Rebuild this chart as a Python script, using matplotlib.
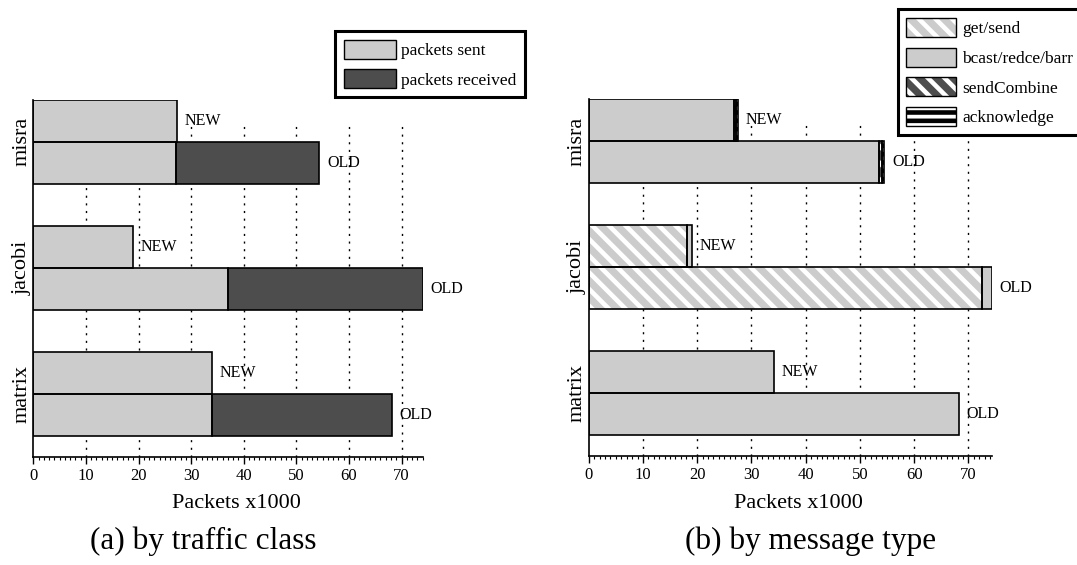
import matplotlib
matplotlib.use("Agg")
import matplotlib.pyplot as plt
from matplotlib.patches import Patch
from matplotlib.legend_handler import HandlerTuple
from matplotlib.ticker import MultipleLocator

plt.rcParams['font.family'] = ['Liberation Serif', 'DejaVu Serif']
plt.rcParams['hatch.linewidth'] = 3.3

# ---------------- data ----------------
categories = ['matrix', 'jacobi', 'misra']
version_labels = ['OLD', 'NEW']

# (a) by traffic class
sent_old = [34.0, 37.0, 27.1]
recv_old = [34.1, 37.1, 27.3]
sent_new = [34.0, 19.0, 27.3]
recv_new = [0.0, 0.0, 0.0]

# (b) by message type
getsend_old = [0.0, 72.6, 0.0]
bcast_old = [68.2, 1.7, 53.6]
sendcomb_old = [0.0, 0.0, 0.5]
ack_old = [0.0, 0.0, 0.4]
getsend_new = [0.0, 18.1, 0.0]
bcast_new = [34.1, 0.9, 26.8]
sendcomb_new = [0.0, 0.0, 0.3]
ack_new = [0.0, 0.0, 0.4]

xlabel = 'Packets x1000'
caption_a = '(a) by traffic class'
caption_b = '(b) by message type'

LIGHT = '#cccccc'
DARK = '#4d4d4d'

fig = plt.figure(figsize=(10.77, 5.65), dpi=100)
W, H = 1077, 565
ax1 = fig.add_axes([33.3 / W, 1 - 456.7 / H, 389.8 / W, 357.0 / H])
ax2 = fig.add_axes([588.7 / W, 1 - 456.0 / H, 403.0 / W, 356.7 / H])


def seg(ax, y, left, width, face, hatch=None, hcolor=None):
    if width <= 0:
        return
    if hatch:
        ax.barh(y, width, left=left, height=1, facecolor=face, edgecolor=hcolor,
                hatch=hatch, linewidth=0, zorder=2)
    else:
        ax.barh(y, width, left=left, height=1, facecolor=face, linewidth=0, zorder=2)
    ax.barh(y, width, left=left, height=1, facecolor='none', edgecolor='black',
            linewidth=1.2, zorder=3)


def style_axes(ax, xmax):
    ax.set_xlim(0, xmax)
    ax.set_ylim(-1, 7.5)
    for s in ['top', 'right']:
        ax.spines[s].set_visible(False)
    ax.spines['left'].set_linewidth(1.2)
    ax.spines['bottom'].set_linewidth(1.2)
    ax.xaxis.set_major_locator(MultipleLocator(10))
    ax.xaxis.set_minor_locator(MultipleLocator(1))
    ax.tick_params(axis='x', which='major', length=5, width=1, labelsize=12, pad=3)
    ax.tick_params(axis='x', which='minor', length=2.5, width=0.8)
    ax.set_yticks([3 * i + 0.5 for i in range(len(categories))])
    ax.set_yticklabels(categories, rotation=90, fontsize=16, va='center')
    ax.tick_params(axis='y', length=0, pad=1.5)
    ax.vlines(range(10, int(xmax) + 1, 10), -1, 6.9, colors='black',
              linestyles=(0, (1.5, 4)), linewidth=1, zorder=1)


def label(ax, x, y, txt):
    ax.annotate(txt, (x, y), xytext=(5.5, 0), textcoords='offset points',
                va='center', ha='left', fontsize=11.5, zorder=4)


# ---------------- panel (a) ----------------
tot_a = []
for i in range(len(categories)):
    y_old, y_new = 3 * i, 3 * i + 1
    seg(ax1, y_old, 0, sent_old[i], LIGHT)
    seg(ax1, y_old, sent_old[i], recv_old[i], DARK)
    seg(ax1, y_new, 0, sent_new[i], LIGHT)
    seg(ax1, y_new, sent_new[i], recv_new[i], DARK)
    label(ax1, sent_old[i] + recv_old[i], y_old, version_labels[0])
    label(ax1, sent_new[i] + recv_new[i], y_new, version_labels[1])
    tot_a += [sent_old[i] + recv_old[i], sent_new[i] + recv_new[i]]
style_axes(ax1, max(tot_a))

leg_a = [Patch(facecolor=LIGHT, edgecolor='black', linewidth=1),
         Patch(facecolor=DARK, edgecolor='black', linewidth=1)]
l1 = ax1.legend(leg_a, ['packets sent', 'packets received'], loc='upper left',
                bbox_to_anchor=(335 / W, 1 - 31 / H), bbox_transform=fig.transFigure,
                borderaxespad=0, fontsize=12.5, handlelength=3.0, handleheight=1.3,
                handletextpad=0.3, labelspacing=0.6, borderpad=0.5,
                fancybox=False, framealpha=1)
l1.get_frame().set_linewidth(2.2)
l1.get_frame().set_edgecolor('black')

# ---------------- panel (b) ----------------
styles = [
    ('get/send', LIGHT, '\\\\', 'white'),
    ('bcast/redce/barr', LIGHT, None, None),
    ('sendCombine', DARK, '\\\\', 'white'),
    ('acknowledge', 'white', '--', 'black'),
]
old_series = [getsend_old, bcast_old, sendcomb_old, ack_old]
new_series = [getsend_new, bcast_new, sendcomb_new, ack_new]

tot_b = []
for i in range(len(categories)):
    for y, series, vl in [(3 * i, old_series, version_labels[0]),
                          (3 * i + 1, new_series, version_labels[1])]:
        left = 0.0
        for (name, face, hatch, hc), vals in zip(styles, series):
            seg(ax2, y, left, vals[i], face, hatch, hc)
            left += vals[i]
        label(ax2, left, y, vl)
        tot_b.append(left)
style_axes(ax2, max(tot_b))

handles_b = []
for name, face, hatch, hc in styles:
    if hatch:
        p1 = Patch(facecolor=face, edgecolor=hc, hatch=hatch, linewidth=0)
    else:
        p1 = Patch(facecolor=face, linewidth=0)
    p2 = Patch(facecolor='none', edgecolor='black', linewidth=1)
    handles_b.append((p1, p2))
l2 = ax2.legend(handles_b, [s[0] for s in styles], loc='upper left',
                bbox_to_anchor=(897.7 / W, 1 - 9.3 / H), bbox_transform=fig.transFigure,
                borderaxespad=0, fontsize=12.5, handlelength=2.87, handleheight=1.3,
                handletextpad=0.35, labelspacing=0.6, borderpad=0.5,
                fancybox=False, framealpha=1,
                handler_map={tuple: HandlerTuple(ndivide=1, pad=0)})
l2.get_frame().set_linewidth(2.2)
l2.get_frame().set_edgecolor('black')

# ---------------- labels ----------------
fig.text(236 / W, 1 - 503 / H, xlabel, ha='center', va='center', fontsize=16)
fig.text(798 / W, 1 - 503 / H, xlabel, ha='center', va='center', fontsize=16)
fig.text(203 / W, 1 - 541.7 / H, caption_a, ha='center', va='center', fontsize=22.5)
fig.text(811 / W, 1 - 541.7 / H, caption_b, ha='center', va='center', fontsize=22.5)

fig.savefig('out.png', dpi=100)
